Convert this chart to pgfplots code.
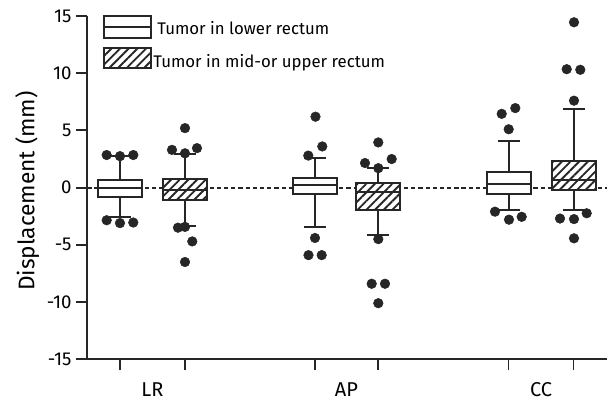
\documentclass[border=0pt]{standalone}
\usepackage{pgfplots}
\pgfplotsset{compat=1.18}
\usepgfplotslibrary{statistics}
\usetikzlibrary{patterns.meta}
\usepackage{fontspec}
\setmainfont{Fira Sans}
\definecolor{ink}{HTML}{262626}
\tikzset{hatch/.style={preaction={fill=white}, pattern={Lines[angle=45,distance=4.6pt,line width=1.4pt]}, pattern color=ink}}

\begin{document}
\begin{tikzpicture}[font=\fontsize{12.6}{15}\selectfont]
\begin{axis}[name=ax, scale only axis, width=390pt, height=257.6pt,
  xmin=0.873, xmax=6.07, ymin=-15, ymax=15,
  axis lines*=left, axis line style={ink, line width=1.4pt},
  ytick={-15,-10,...,15},
  yticklabel style={font=\fontsize{14}{16}\selectfont},
  xtick={1.20,1.85,3.15,3.78,5.085,5.735}, xticklabels={},
  extra x ticks={1.525,3.465,5.41}, extra x tick labels={LR,AP,CC},
  extra x tick style={major tick length=0pt, tick label style={yshift=-14pt, font=\fontsize{15}{17}\selectfont}},
  tick align=outside, major tick length=8.3pt, tick style={ink, line width=1.4pt},
  ylabel={Displacement (mm)},
  every axis y label/.style={at={(axis description cs:0,0.49)}, xshift=-45pt, rotate=90, anchor=center, font=\fontsize{17}{19}\selectfont},
  /pgf/number format/assume math mode=true,
  clip=false,
  boxplot/draw direction=y,
  boxplot/box extend=0.44, boxplot/whisker extend=0.22,
]
% zero line
\addplot[ink, line width=1.4pt, dash pattern=on 3.2pt off 2.2pt, forget plot] coordinates {(0.873,0) (6.07,0)};

% LR
\addplot[ink, mark=none, line width=1.5pt, fill=white, boxplot prepared={draw position=1.20, lower whisker=-2.55, lower quartile=-0.78, median=0.0, upper quartile=0.64, upper whisker=2.8}] coordinates {};
\addplot[ink, mark=none, line width=1.5pt, boxplot/every box/.style={hatch}, boxplot prepared={draw position=1.85, lower whisker=-3.37, lower quartile=-1.05, median=-0.2, upper quartile=0.72, upper whisker=2.94}] coordinates {};
% AP
\addplot[ink, mark=none, line width=1.5pt, fill=white, boxplot prepared={draw position=3.15, lower whisker=-3.45, lower quartile=-0.55, median=0.2, upper quartile=0.85, upper whisker=2.6}] coordinates {};
\addplot[ink, mark=none, line width=1.5pt, boxplot/every box/.style={hatch}, boxplot prepared={draw position=3.78, lower whisker=-4.1, lower quartile=-1.92, median=-0.41, upper quartile=0.4, upper whisker=1.7}] coordinates {};
% CC
\addplot[ink, mark=none, line width=1.5pt, fill=white, boxplot prepared={draw position=5.085, lower whisker=-1.98, lower quartile=-0.58, median=0.35, upper quartile=1.4, upper whisker=4.1}] coordinates {};
\addplot[ink, mark=none, line width=1.5pt, boxplot/every box/.style={hatch}, boxplot prepared={draw position=5.735, lower whisker=-1.95, lower quartile=-0.2, median=0.66, upper quartile=2.32, upper whisker=6.86}] coordinates {};

% outliers
\addplot[only marks, mark=*, mark size=3.6pt, ink, fill=ink] table {
x y
1.067 2.85
1.200 2.75
1.333 2.85
1.067 -2.85
1.200 -3.1
1.333 -3.05
1.72 3.3
1.85 3.0
1.97 3.45
1.85 5.2
1.78 -3.5
1.85 -3.43
1.923 -4.7
1.85 -6.5
3.083 2.8
3.223 3.6
3.155 6.2
3.15 -4.4
3.085 -5.9
3.217 -5.9
3.65 2.15
3.783 1.7
3.917 2.5
3.783 3.95
3.783 -4.5
3.717 -8.4
3.85 -8.4
3.783 -10.1
5.087 5.1
5.017 6.45
5.153 6.95
4.95 -2.1
5.09 -2.8
5.217 -2.55
5.74 14.45
5.667 10.35
5.803 10.3
5.74 7.6
5.60 -2.7
5.74 -2.75
5.867 -2.24
5.74 -4.43
};

% legend
\draw[ink, line width=1.5pt, fill=white] (axis cs:1.04,13.07) rectangle (axis cs:1.51,15);
\draw[ink, line width=1.5pt] (axis cs:1.04,14.03) -- (axis cs:1.51,14.03);
\draw[ink, line width=1.5pt, hatch] (axis cs:1.04,10.45) rectangle (axis cs:1.51,12.2);
\node[anchor=base west, inner sep=0pt] at (axis cs:1.57,13.4) {Tumor in lower rectum};
\node[anchor=base west, inner sep=0pt] at (axis cs:1.53,10.5) {Tumor in mid-or upper rectum};
\end{axis}
\pgfresetboundingbox
\path[use as bounding box] ([shift={(-65.5pt,-32.6pt)}]ax.south west) rectangle ([shift={(4.5pt,12pt)}]ax.north east);
\end{tikzpicture}
\end{document}
